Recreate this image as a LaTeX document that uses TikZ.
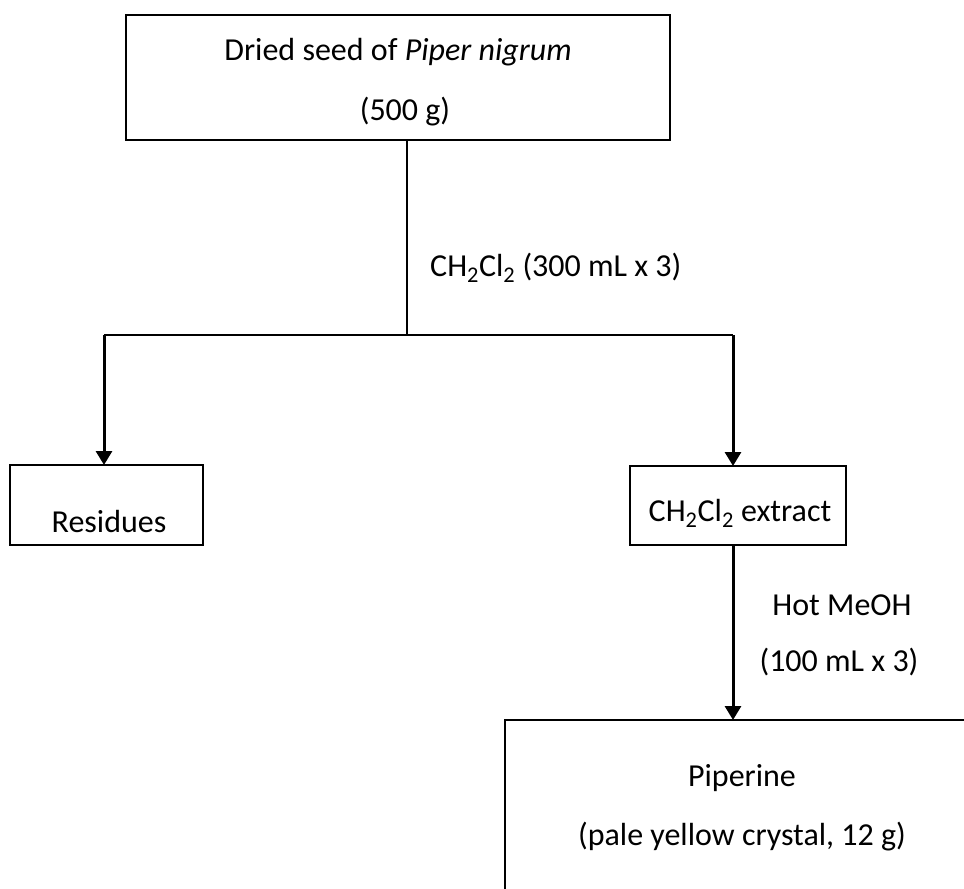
\documentclass[tikz,border=0pt]{standalone}
\usepackage{fontspec}
\setmainfont{Carlito}
\usetikzlibrary{arrows.meta}
\begin{document}
\begin{tikzpicture}[x=1pt,y=-1pt,
 box/.style={draw,line width=2pt,inner sep=0pt,outer sep=0pt},
 txt/.style={font=\fontsize{32}{36}\selectfont,inner sep=0pt},
 thinline/.style={line width=1.5pt},
 thickarrow/.style={line width=3pt,-{Triangle[width=16pt,length=14pt]}}]
\clip (0,0) rectangle (964,889);
\fill[white] (0,0) rectangle (964,889);
\node[box,minimum width=544pt,minimum height=125pt] (top) at (398,77.5) {};
\node[box,minimum width=193pt,minimum height=80pt] (res) at (106.5,505) {};
\node[box,minimum width=216pt,minimum height=79pt] (ext) at (738,505.5) {};
\node[box,minimum width=600pt,minimum height=300pt] (pip) at (805,870) {};
\node[txt] (t1) at (398,52) {Dried seed of \textit{Piper nigrum}};
\node[txt] (t2) at (405,112) {(500 g)};
\node[txt,anchor=west] (l1) at (430,268) {CH\textsubscript{2}Cl\textsubscript{2} (300 mL x 3)};
\node[txt] (t3) at (109,522) {Residues};
\node[txt] (t4) at (740,513) {CH\textsubscript{2}Cl\textsubscript{2} extract};
\node[txt] (l2) at (842,605) {Hot MeOH};
\node[txt] (l3) at (839,662) {(100 mL x 3)};
\node[txt] (t5) at (742,778) {Piperine};
\node[txt] (t6) at (742,837) {(pale yellow crystal, 12 g)};
\coordinate (split) at (407,335);
\coordinate (hl) at (104,335);
\coordinate (hr) at (733,335);
\draw[thinline] (top.south -| split) -- (split);
\draw[thinline] (hl) -- (hr);
\draw[thickarrow] (hl) -- (hl |- res.north);
\draw[thickarrow] (hr) -- (hr |- ext.north);
\draw[thickarrow] (ext.south -| hr) -- (hr |- pip.north);
\end{tikzpicture}
\end{document}
